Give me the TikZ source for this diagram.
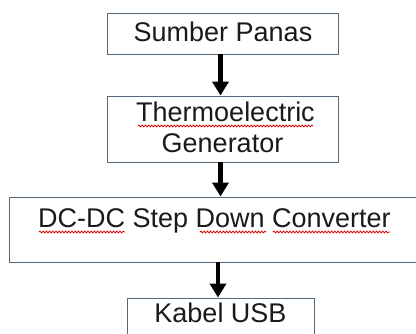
\documentclass[tikz,border=0pt]{standalone}
\usepackage{fontspec}
\setmainfont{Liberation Sans}
\usetikzlibrary{arrows.meta,decorations.pathmorphing}
\definecolor{boxline}{HTML}{56687C}
\definecolor{txt}{HTML}{1A1A1A}
\tikzset{
  blockbox/.style={draw=boxline, line width=0.9pt, fill=white, inner sep=0pt},
  lbl/.style={anchor=base, inner sep=0pt, text=txt, font=\fontsize{27}{31}\selectfont},
  flow/.style={line width=4.2pt, -{Triangle[length=14pt,width=16pt]}, black},
  spell/.style={draw=red!85!black, line width=0.8pt, decorate, decoration={snake, segment length=3.2pt, amplitude=0.9pt}}
}
\begin{document}
\begin{tikzpicture}[x=1pt,y=-1pt]
\useasboundingbox (0,0) rectangle (416,334);
\clip (0,0) rectangle (416,334);
\fill[white] (0,0) rectangle (416,334);
% boxes
\node[blockbox, minimum width=231pt, minimum height=41pt] (b1) at (222.5,33.5) {};
\node[blockbox, minimum width=231pt, minimum height=66pt] (b2) at (222.5,129) {};
\node[blockbox, minimum width=414pt, minimum height=65pt] (b3) at (216,229.5) {};
\node[blockbox, minimum width=187pt, minimum height=60pt] (b4) at (220.5,328) {};
% texts
\node[lbl] (t1) at (223,42) {Sumber Panas};
\node[lbl] (t2a) at (225.5,122) {Thermoelectric};
\node[lbl] (t2b) at (222.5,153) {Generator};
\node[lbl] (t3) at (214.5,228) {DC-DC Step Down Converter};
\node[lbl] (t4) at (220.5,323) {Kabel USB};
% arrows
\coordinate (a1) at ([xshift=-2pt]b1.south);
\coordinate (a2) at ([xshift=-2pt]b2.south);
\coordinate (a3) at ([xshift=2pt]b3.south);
\draw[flow] (a1) -- (a1 |- b2.north);
\draw[flow] (a2) -- (a2 |- b3.north);
\draw[flow] (a3) -- (a3 |- b4.north);
% spell-check underlines
\coordinate (s1a) at (138,126); \coordinate (s1b) at (313,126);
\coordinate (s2a) at (39,232);  \coordinate (s2b) at (125,232);
\coordinate (s3a) at (200,232); \coordinate (s3b) at (266,232);
\coordinate (s4a) at (273,232); \coordinate (s4b) at (390,232);
\path[spell] (s1a) -- (s1b);
\path[spell] (s2a) -- (s2b);
\path[spell] (s3a) -- (s3b);
\path[spell] (s4a) -- (s4b);
\end{tikzpicture}
\end{document}
